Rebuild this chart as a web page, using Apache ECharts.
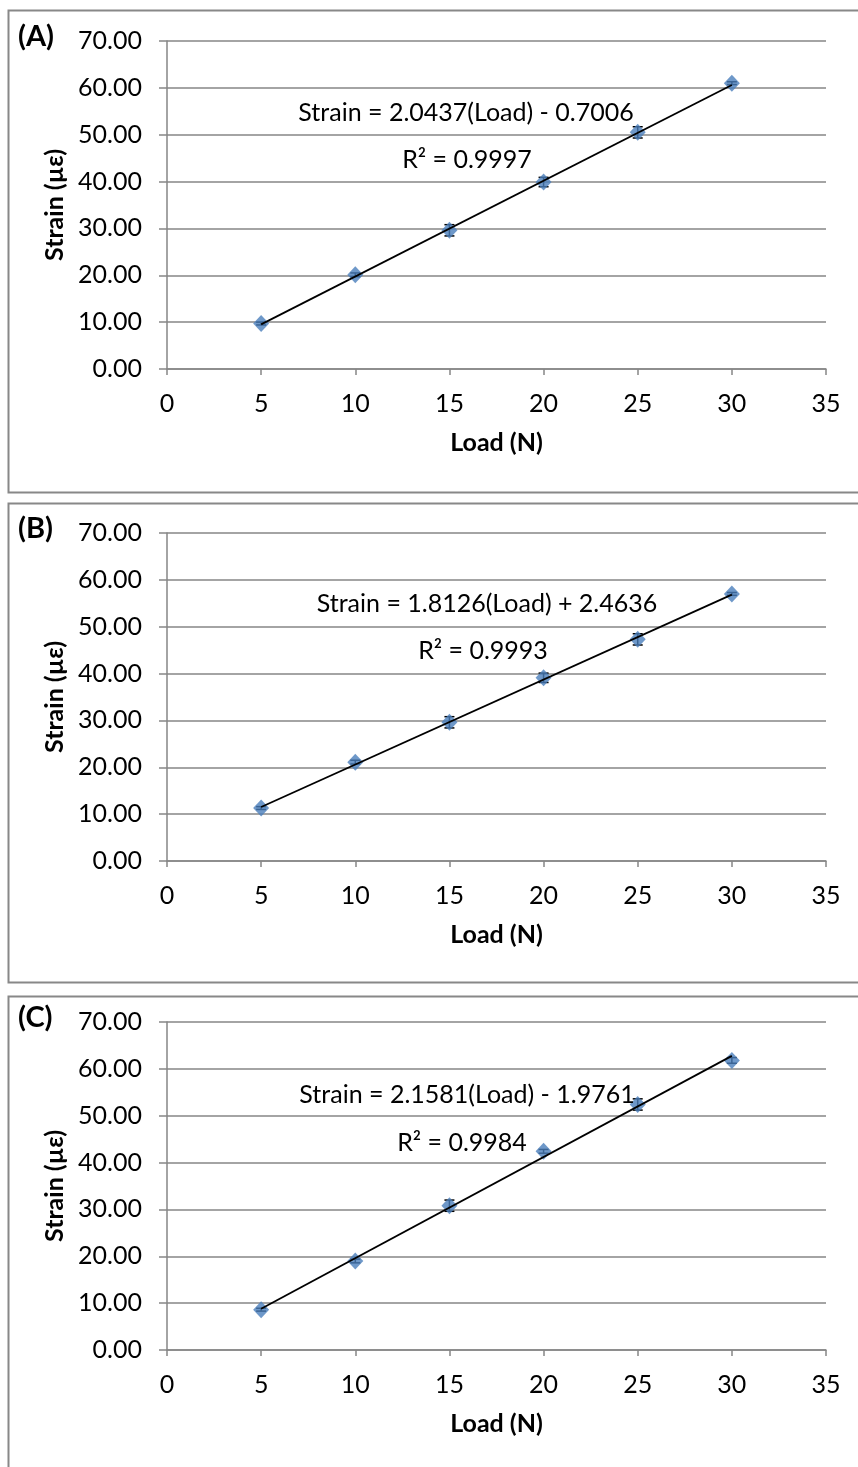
<!DOCTYPE html>
<html>
<head>
<meta charset="utf-8">
<script src="https://cdn.jsdelivr.net/npm/echarts@6/dist/echarts.min.js"></script>
<style>
  html, body { margin: 0; padding: 0; background: #fff; }
  #chart { width: 858px; height: 1467px; }
</style>
</head>
<body>
<div id="chart"></div>
<script>
// Applied load (N) for each measurement
const loads = [5, 10, 15, 20, 25, 30];

// Measured strain (µε) for each gauge
const strainA = [9.7, 20.1, 29.6, 39.9, 50.5, 61.0];
const strainB = [11.3, 21.1, 29.6, 39.1, 47.3, 57.0];
const strainC = [8.6, 19.0, 30.8, 42.4, 52.4, 61.8];

// Spread of the repeated readings (µε)
const errA = [0.3, 0.4, 1.2, 1.0, 1.2, 0.3];
const errB = [0.3, 0.4, 1.2, 1.0, 1.2, 0.3];
const errC = [0.3, 0.4, 1.2, 0.4, 1.2, 0.6];

// Linear fit of each gauge: Strain = slope * Load + intercept
const slopes = [2.0437, 1.8126, 2.1581];
const intercepts = [-0.7006, 2.4636, -1.9761];
const rSquared = ['0.9997', '0.9993', '0.9984'];

const panelTags = ['(A)', '(B)', '(C)'];
const xTickLabels = [0, 5, 10, 15, 20, 25, 30, 35];
const yTickLabels = [0, 10, 20, 30, 40, 50, 60, 70];

const strains = [strainA, strainB, strainC];
const errors = [errA, errB, errC];

const FONT = 'Lato, "Open Sans", sans-serif';
const GRID_GREY = '#868686';
const BLUE = '#4a7ebb';

// Panel layout (pixels)
const gridTops = [41, 533, 1022];
const gridHeight = 328;
const gridLeft = 167;
const gridRight = 32;
const boxes = [[10, 492], [503, 982], [996, 1490]];
const eqPos = [[466, 113, 467, 160], [487, 604, 483, 651], [467, 1095, 462, 1143]];

function fmtEq(i) {
  const b = intercepts[i];
  const sign = b < 0 ? '-' : '+';
  return 'Strain = ' + slopes[i].toFixed(4) + '(Load) ' + sign + ' ' + Math.abs(b).toFixed(4);
}

const grids = [], xAxes = [], yAxes = [], series = [], graphics = [];

for (let i = 0; i < 3; i++) {
  grids.push({ left: gridLeft, right: gridRight, top: gridTops[i], height: gridHeight });

  xAxes.push({
    gridIndex: i, type: 'value',
    min: xTickLabels[0], max: xTickLabels[xTickLabels.length - 1], interval: 5,
    axisLine: { show: true, lineStyle: { color: GRID_GREY, width: 1.5 } },
    axisTick: { show: true, length: 6, lineStyle: { color: GRID_GREY, width: 1.5 } },
    splitLine: { show: false },
    axisLabel: { color: '#000', fontFamily: FONT, fontSize: 25, margin: 35, verticalAlign: 'middle' },
    name: 'Load (N)', nameLocation: 'middle', nameGap: 74,
    nameTextStyle: { color: '#000', fontFamily: FONT, fontSize: 25, fontWeight: 'bold', verticalAlign: 'middle' }
  });

  yAxes.push({
    gridIndex: i, type: 'value',
    min: yTickLabels[0], max: yTickLabels[yTickLabels.length - 1], interval: 10,
    axisLine: { show: true, lineStyle: { color: GRID_GREY, width: 1.5 } },
    axisTick: { show: true, length: 8, lineStyle: { color: GRID_GREY, width: 1.5 } },
    splitLine: { show: true, lineStyle: { color: GRID_GREY, width: 1.5 } },
    axisLabel: { color: '#000', fontFamily: FONT, fontSize: 25, margin: 25,
                 formatter: v => v.toFixed(2) },
    name: 'Strain (µε)', nameLocation: 'middle', nameGap: 103, nameRotate: 90,
    nameTextStyle: { color: '#000', fontFamily: FONT, fontSize: 25, fontWeight: 'bold', verticalAlign: 'middle' }
  });

  // error bars, mostly hidden behind the markers
  series.push({
    type: 'custom', xAxisIndex: i, yAxisIndex: i, z: 2, silent: true,
    data: loads.map((x, k) => [x, strains[i][k] - errors[i][k], strains[i][k] + errors[i][k]]),
    renderItem: function (params, api) {
      const lo = api.coord([api.value(0), api.value(1)]);
      const hi = api.coord([api.value(0), api.value(2)]);
      const w = 5;
      const style = { stroke: '#000', lineWidth: 1.5 };
      return {
        type: 'group',
        children: [
          { type: 'line', shape: { x1: lo[0], y1: lo[1], x2: hi[0], y2: hi[1] }, style },
          { type: 'line', shape: { x1: lo[0] - w, y1: lo[1], x2: lo[0] + w, y2: lo[1] }, style },
          { type: 'line', shape: { x1: hi[0] - w, y1: hi[1], x2: hi[0] + w, y2: hi[1] }, style }
        ]
      };
    }
  });

  // measured points
  series.push({
    type: 'scatter', xAxisIndex: i, yAxisIndex: i, z: 3,
    symbol: 'diamond', symbolSize: [16, 17],
    itemStyle: { color: BLUE },
    data: loads.map((x, k) => [x, strains[i][k]])
  });

  // fitted line across the measured load range
  const x0 = loads[0], x1 = loads[loads.length - 1];
  series.push({
    type: 'line', xAxisIndex: i, yAxisIndex: i, z: 4,
    symbol: 'none', silent: true,
    lineStyle: { color: '#000', width: 1.8 },
    data: [[x0, slopes[i] * x0 + intercepts[i]], [x1, slopes[i] * x1 + intercepts[i]]]
  });

  // panel frame
  graphics.push({
    type: 'rect', silent: true, z: -1,
    shape: { x: 8.5, y: boxes[i][0] + 0.5, width: 880, height: boxes[i][1] - boxes[i][0] },
    style: { fill: 'none', stroke: '#888', lineWidth: 2 }
  });

  // panel tag
  graphics.push({
    type: 'text', left: 18, top: gridTops[i] - 19,
    style: { text: panelTags[i], font: 'bold 29px ' + FONT, fill: '#000' }
  });

  // fit equation and R²
  graphics.push({
    type: 'text', x: eqPos[i][0], y: eqPos[i][1], z: 10,
    style: { text: fmtEq(i), font: '25px ' + FONT, fill: '#000', align: 'center', verticalAlign: 'middle' }
  });
  graphics.push({
    type: 'text', x: eqPos[i][2], y: eqPos[i][3], z: 10,
    style: { text: 'R² = ' + rSquared[i], font: '25px ' + FONT, fill: '#000', align: 'center', verticalAlign: 'middle' }
  });
}

const chart = echarts.init(document.getElementById('chart'), null, { renderer: 'canvas' });
chart.setOption({
  animation: false,
  backgroundColor: '#fff',
  grid: grids,
  xAxis: xAxes,
  yAxis: yAxes,
  series: series,
  graphic: graphics
});
</script>
</body>
</html>
